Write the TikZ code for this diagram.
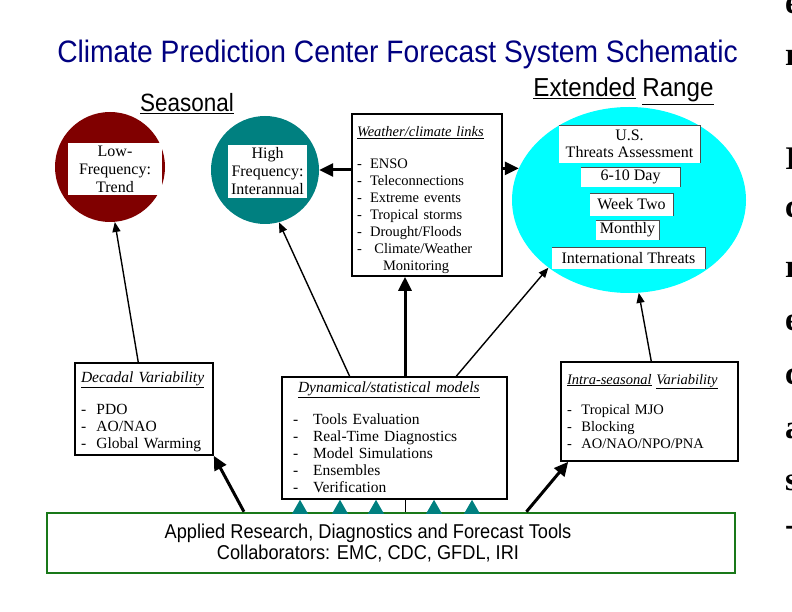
\documentclass[tikz,border=0pt]{standalone}
\usepackage{fontspec}
\setmainfont{Liberation Serif}
\setsansfont{Liberation Sans}
\usepackage{graphicx}
\usetikzlibrary{arrows.meta,shapes.geometric}

\definecolor{cpcnavy}{RGB}{0,0,128}
\definecolor{cpcred}{RGB}{128,0,0}
\definecolor{cpcteal}{RGB}{0,128,128}
\definecolor{cpccyan}{RGB}{0,255,255}
\definecolor{cpcgreen}{RGB}{25,120,25}

\newcommand{\hy}[1][1em]{\makebox[#1][l]{-}}
\newcommand{\narrow}[2][0.88]{\scalebox{#1}[1]{#2}}

\begin{document}
\begin{tikzpicture}[x=1pt,y=-1pt,
  disc/.style={circle,inner sep=0pt},
  inbox/.style={fill=white,inner sep=0pt,align=center,font=\fontsize{16}{18}\selectfont},
  listbox/.style={draw,line width=1.6pt,fill=white,inner ysep=0pt,align=left,font=\fontsize{14.5}{17}\selectfont},
  tagbox/.style={fill=white,inner sep=0pt,font=\fontsize{16}{17.5}\selectfont},
  thin arrow/.style={-{Triangle[length=10pt,width=8pt]},line width=1.4pt},
  fat arrow/.style={-{Triangle[length=14pt,width=13pt]},line width=3pt},
  heading/.style={anchor=base,inner sep=0pt}]
\useasboundingbox (0,0) rectangle (792,612);

% headings
\node[heading,text=cpcnavy,font=\sffamily\fontsize{31}{34}\selectfont] (title) at (397.5,63)
  {\narrow[0.91]{Climate Prediction Center Forecast System Schematic}};
\node[heading,font=\sffamily\fontsize{25}{28}\selectfont] (seasonal) at (187,112) {\narrow[0.9]{\underline{Seasonal}}};
\node[heading,font=\sffamily\fontsize{26}{28}\selectfont] (extended) at (623.5,97) {\narrow[0.93]{\underline{Extended} \underline{Range}}};

% seasonal discs
\node[disc,fill=cpcred,minimum size=110pt] (lowfreq) at (110,167) {};
\node[inbox,minimum width=94pt,minimum height=52pt] (lowtxt) at (115,169) {Low-\\Frequency:\\Trend};
\node[disc,fill=cpcteal,minimum size=108pt] (highfreq) at (265,170) {};
\node[inbox,minimum width=79pt,minimum height=53pt] (hightxt) at (267.5,171.5) {High\\Frequency:\\Interannual};

% extended range
\node[ellipse,fill=cpccyan,inner sep=0pt,minimum width=234pt,minimum height=186pt] (threats) at (629,200) {};
\node[tagbox,minimum width=141pt,minimum height=38pt,align=center] (us) at (629.5,144) {U.S.\\Threats Assessment};
\node[tagbox,minimum width=99pt,minimum height=20pt] (sixten) at (630.5,177) {6-10 Day\hspace{10pt}};
\node[tagbox,minimum width=83pt,minimum height=23pt] (weektwo) at (631.5,204.5) {Week Two};
\node[tagbox,minimum width=63pt,minimum height=20pt] (monthly) at (627.5,230) {Monthly};
\node[tagbox,minimum width=153pt,minimum height=22pt] (intl) at (628.5,258) {International Threats};
\foreach \n in {us,sixten,weektwo,monthly,intl}
  \draw[black!70] (\n.north west) -- (\n.north east) -- (\n.south east);

% list boxes
\node[listbox,inner xsep=5pt,text width=140pt,text height=23pt,text depth=139pt] (links) at (427,195)
  {\underline{\textit{Weather/climate links}}\\[15pt]
   \hy[0.9em]ENSO\\ \hy[0.9em]Teleconnections\\ \hy[0.9em]Extreme events\\ \hy[0.9em]Tropical storms\\
   \hy[0.9em]Drought/Floods\\ \hy[1.2em]Climate/Weather\\ \hspace{1.8em}Monitoring};
\node[listbox,font=\fontsize{15.5}{17}\selectfont,inner xsep=6pt,text width=126pt,text height=19pt,text depth=73pt] (decadal) at (144,409)
  {\underline{\textit{Decadal Variability}}\\[15pt]
   \hy PDO\\ \hy AO/NAO\\ \hy Global Warming};
\node[listbox,font=\fontsize{15.5}{17}\selectfont,inner xsep=11pt,text width=203pt,text height=15pt,text depth=107pt] (models) at (394.5,438)
  {\hspace{5pt}\underline{\textit{Dynamical/statistical models}}\\[15pt]
   \hy[1.3em]Tools Evaluation\\ \hy[1.3em]Real-Time Diagnostics\\ \hy[1.3em]Model Simulations\\
   \hy[1.3em]Ensembles\\ \hy[1.3em]Verification};
\node[listbox,inner xsep=6pt,text width=165pt,text height=22pt,text depth=77pt] (intra) at (649.5,411.5)
  {\underline{\textit{Intra-seasonal}} \underline{\textit{Variability}}\\[13pt]
   \hy Tropical MJO\\ \hy Blocking\\ \hy AO/NAO/NPO/PNA};

% base
\node[draw=cpcgreen,line width=2.5pt,minimum width=688pt,minimum height=60pt,inner sep=0pt] (tools) at (391,543) {};
\node[font=\sffamily\fontsize{20}{21}\selectfont,align=center,inner sep=0pt] (toolstxt) at (368,543)
  {\narrow[0.91]{Applied Research, Diagnostics and Forecast Tools}\\ \narrow[0.91]{Collaborators: EMC, CDC, GFDL, IRI}};
\foreach \dx in {-94.5,-54.5,-18.5,39.5,77.5}
  \fill[cpcteal] ([xshift=\dx pt]models.south) -- ++(-8,14) -- ++(16,0) -- cycle;
\draw[line width=1pt] ([xshift=10.5pt]models.south) -- ([xshift=10.5pt]models.south |- tools.north);

% arrows
\draw[thin arrow] (decadal.97) -- (lowfreq.-85);
\draw[thin arrow] (models.126) -- (highfreq.-75);
\draw[thin arrow] (models.45) -- (threats.-140);
\draw[thin arrow] (intra.88) -- (threats.-84);
\draw[fat arrow] (links.west |- highfreq.east) -- (highfreq.east);
\draw[fat arrow] (links.east |- threats.164) -- (threats.164);
\draw[fat arrow] ([xshift=10.5pt]models.north) -- ([xshift=10.5pt]models.north |- links.south);
\draw[fat arrow] (tools.168) -- (decadal.south east);
\draw[fat arrow] (tools.13) -- ([xshift=8pt]intra.south west);

% cut-off text at the right edge
\begin{scope}
\clip (0,0) rectangle (792,612);
\foreach \ch/\y in {e/14,r/66,I/170,c/218,r/278,e/330,c/384,a/438,s/490,-/535}
  \node[anchor=base west,inner sep=0pt,font=\bfseries\fontsize{33}{33}\selectfont] (cut\y) at (785,\y) {\ch};
\end{scope}
\end{tikzpicture}
\end{document}
